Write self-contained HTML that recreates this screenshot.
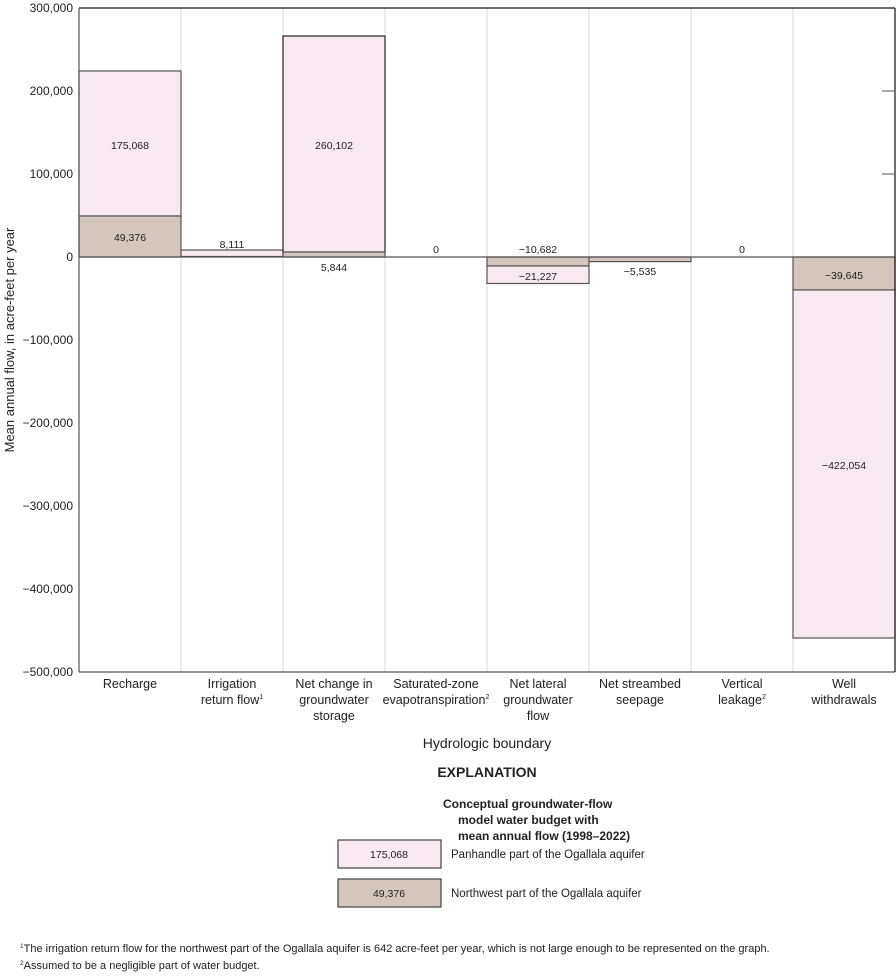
<!DOCTYPE html>
<html><head><meta charset="utf-8"><style>
body{margin:0;background:#fff}
svg{display:block;font-family:"Liberation Sans",sans-serif}
</style></head><body>
<svg width="896" height="978" viewBox="0 0 896 978" xmlns="http://www.w3.org/2000/svg">
<g stroke="#d8d8d8" stroke-width="1">
<line x1="181" y1="8" x2="181" y2="672"/><line x1="283" y1="8" x2="283" y2="672"/>
<line x1="385" y1="8" x2="385" y2="672"/><line x1="487" y1="8" x2="487" y2="672"/>
<line x1="589" y1="8" x2="589" y2="672"/><line x1="691" y1="8" x2="691" y2="672"/>
<line x1="793" y1="8" x2="793" y2="672"/>
</g>
<g stroke="#555" stroke-width="1.2">
<rect x="79" y="71" width="102" height="145" fill="#f9e9f0"/>
<rect x="79" y="216" width="102" height="41" fill="#d5c6bd"/>
<rect x="181" y="250" width="102" height="6.5" fill="#f9e9f0"/>
<rect x="283" y="36" width="102" height="216" fill="#f9e9f0" stroke="#222"/>
<rect x="283" y="252" width="102" height="5" fill="#d5c6bd"/>
<rect x="487" y="257" width="102" height="9" fill="#d5c6bd"/>
<rect x="487" y="266" width="102" height="17.5" fill="#f9e9f0"/>
<rect x="589" y="257" width="102" height="4.6" fill="#d5c6bd"/>
<rect x="793" y="257" width="102" height="33" fill="#d5c6bd"/>
<rect x="793" y="290" width="102" height="348" fill="#f9e9f0"/>
</g>
<line x1="79" y1="257" x2="895" y2="257" stroke="#555" stroke-width="1.2"/>
<line x1="79" y1="8" x2="895" y2="8" stroke="#111" stroke-width="1.2"/>
<line x1="79" y1="672" x2="895" y2="672" stroke="#555" stroke-width="1.2"/>
<line x1="79" y1="8" x2="79" y2="672" stroke="#555" stroke-width="1.2"/>
<line x1="895" y1="8" x2="895" y2="672" stroke="#111" stroke-width="1.2"/>
<g stroke="#555"><line x1="882" y1="91" x2="895" y2="91"/><line x1="882" y1="174" x2="895" y2="174"/></g>
<g font-size="12" text-anchor="end" fill="#222">
<text x="73" y="12">300,000</text><text x="73" y="95">200,000</text><text x="73" y="178">100,000</text>
<text x="73" y="261">0</text><text x="73" y="344">−100,000</text><text x="73" y="427">−200,000</text>
<text x="73" y="510">−300,000</text><text x="73" y="593">−400,000</text><text x="73" y="676">−500,000</text>
</g>
<text transform="translate(14,340) rotate(-90)" font-size="13" text-anchor="middle" fill="#222">Mean annual flow, in acre-feet per year</text>
<g font-size="10.5" text-anchor="middle" fill="#222">
<text x="130" y="149">175,068</text><text x="130" y="241">49,376</text>
<text x="232" y="248">8,111</text>
<text x="334" y="149">260,102</text><text x="334" y="271">5,844</text>
<text x="436" y="253">0</text>
<text x="538" y="253">−10,682</text><text x="538" y="280">−21,227</text>
<text x="640" y="275">−5,535</text>
<text x="742" y="253">0</text>
<text x="844" y="279">−39,645</text><text x="844" y="469">−422,054</text>
</g>
<g font-size="12.5" text-anchor="middle" fill="#222">
<text x="130" y="688">Recharge</text>
<text x="232" y="688">Irrigation</text><text x="232" y="704">return flow<tspan font-size="7" dy="-5">1</tspan></text>
<text x="334" y="688">Net change in</text><text x="334" y="704">groundwater</text><text x="334" y="720">storage</text>
<text x="436" y="688">Saturated-zone</text><text x="436" y="704">evapotranspiration<tspan font-size="7" dy="-5">2</tspan></text>
<text x="538" y="688">Net lateral</text><text x="538" y="704">groundwater</text><text x="538" y="720">flow</text>
<text x="640" y="688">Net streambed</text><text x="640" y="704">seepage</text>
<text x="742" y="688">Vertical</text><text x="742" y="704">leakage<tspan font-size="7" dy="-5">2</tspan></text>
<text x="844" y="688">Well</text><text x="844" y="704">withdrawals</text>
<text x="487" y="748" font-size="14">Hydrologic boundary</text>
<text x="487" y="777" font-size="14" font-weight="bold">EXPLANATION</text>
</g>
<g font-size="12" font-weight="bold" fill="#222">
<text x="443" y="808">Conceptual groundwater-flow</text>
<text x="458" y="824">model water budget with</text>
<text x="458" y="840">mean annual flow (1998–2022)</text>
</g>
<rect x="338" y="840" width="103" height="28" fill="#f9e9f0" stroke="#444" stroke-width="1.2"/>
<rect x="338" y="879" width="103" height="28" fill="#d5c6bd" stroke="#444" stroke-width="1.2"/>
<g font-size="10.5" fill="#222">
<text x="389" y="858" text-anchor="middle">175,068</text>
<text x="389" y="897" text-anchor="middle">49,376</text>
<text x="451" y="858" font-size="11.5">Panhandle part of the Ogallala aquifer</text>
<text x="451" y="897" font-size="11.5">Northwest part of the Ogallala aquifer</text>
<text x="20" y="952" font-size="11"><tspan font-size="6.5" dy="-4">1</tspan><tspan dy="4">The irrigation return flow for the northwest part of the Ogallala aquifer is 642 acre-feet per year, which is not large enough to be represented on the graph.</tspan></text>
<text x="20" y="969" font-size="11"><tspan font-size="6.5" dy="-4">2</tspan><tspan dy="4">Assumed to be a negligible part of water budget.</tspan></text>
</g>
</svg>
</body></html>
